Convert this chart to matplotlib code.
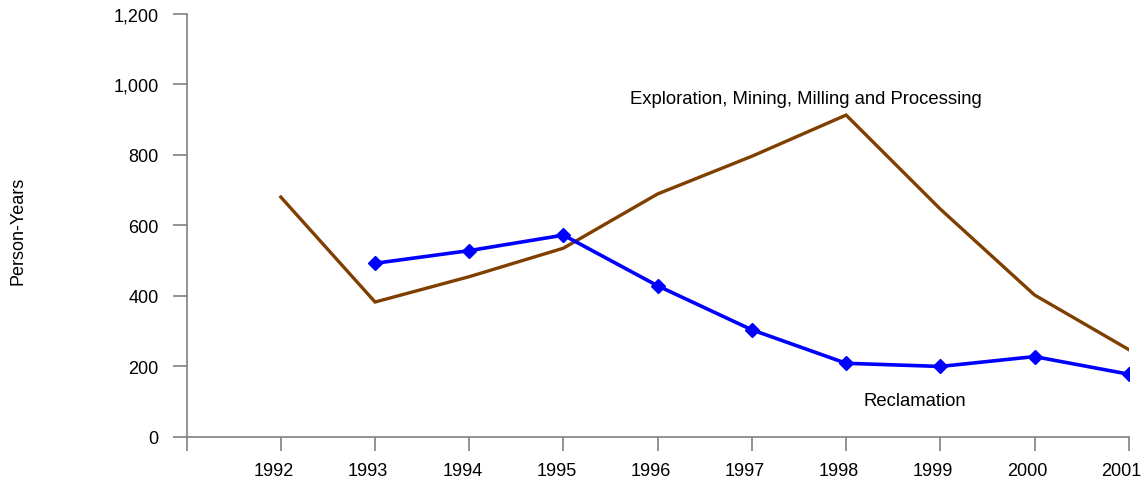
import matplotlib
matplotlib.use("Agg")
import matplotlib.pyplot as plt
import matplotlib.transforms as mtransforms

plt.rcParams['font.family'] = ['Liberation Sans', 'DejaVu Sans']

years = [1992, 1993, 1994, 1995, 1996, 1997, 1998, 1999, 2000, 2001]
mining = [680, 382, 454, 535, 689, 796, 913, 646, 402, 247]
recl_years = [1993, 1994, 1995, 1996, 1997, 1998, 1999, 2000, 2001]
reclamation = [492, 528, 572, 428, 303, 208, 199, 227, 177]
y_ticks = [0, 200, 400, 600, 800, 1000, 1200]

fig = plt.figure(figsize=(11.43, 4.81), dpi=100)
ax = fig.add_axes([0.1633, 0.0904, 0.8242, 0.8784])

ax.plot(years, mining, color='#7F3F00', lw=2.4, solid_joinstyle='miter')
ax.plot(recl_years, reclamation, color='#0000FF', lw=2.6, marker='D', ms=7)

ax.set_xlim(1991, 2001)
ax.set_ylim(0, 1200)
ax.set_xticks(range(1991, 2002))
ax.set_xticklabels([''] + [str(y) for y in years])
ax.set_yticks(y_ticks)
ax.set_yticklabels(['{:,}'.format(v) for v in y_ticks])

for s in ['top', 'right']:
    ax.spines[s].set_visible(False)
for s in ['left', 'bottom']:
    ax.spines[s].set_color('#808080')
    ax.spines[s].set_linewidth(1.2)
ax.tick_params(axis='both', colors='#808080', labelcolor='black', labelsize=13,
               width=1.2, length=10)
ax.tick_params(axis='x', pad=8)
ax.tick_params(axis='y', pad=10)

# excel-style labels sit a little left of the tick
shift = mtransforms.ScaledTranslation(-7 / 100, 0, fig.dpi_scale_trans)
for lab in ax.get_xticklabels():
    lab.set_transform(lab.get_transform() + shift)

ax.set_ylabel('Person-Years', fontsize=13)
ax.yaxis.set_label_coords(-0.170, 0.49)

ax.text(1995.71, 960, 'Exploration, Mining, Milling and Processing', fontsize=13.3,
        va='center', ha='left')
ax.text(1998.18, 103, 'Reclamation', fontsize=13.3, va='center', ha='left')

fig.savefig('out.png', dpi=100)
